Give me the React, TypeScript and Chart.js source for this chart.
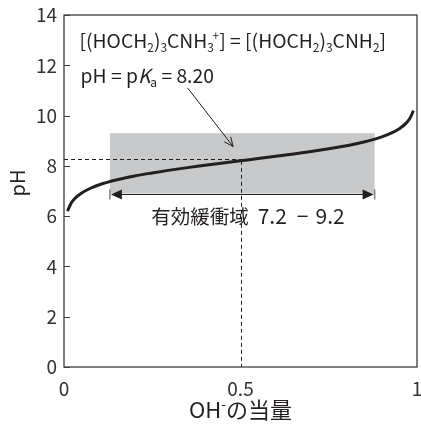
import { useEffect, useRef } from 'react';
import { Chart, registerables } from 'chart.js';

Chart.register(...registerables);

// ---- data ----
const equivalents = [0.01, 0.02, 0.03, 0.05, 0.075, 0.1, 0.15, 0.2, 0.25, 0.3, 0.35, 0.4, 0.45, 0.5, 0.55, 0.6, 0.65, 0.7, 0.75, 0.8, 0.85, 0.9, 0.925, 0.95, 0.97, 0.98, 0.99];
const phValues = [6.2, 6.51, 6.69, 6.92, 7.11, 7.25, 7.45, 7.6, 7.72, 7.83, 7.93, 8.02, 8.11, 8.2, 8.29, 8.38, 8.47, 8.57, 8.68, 8.8, 8.95, 9.15, 9.29, 9.48, 9.71, 9.89, 10.2];

const xTicks = [0, 0.5, 1];
const xTickLabels = ['0', '0.5', '1'];
const yTickStep = 2;

const bufferRangeX = [0.13, 0.88];
const bufferRangeY = [6.9, 9.3];
const bufferArrowY = 6.88;
const halfPoint = [0.5, 8.2];
const guideLineY = 8.28;
const pointerFrom = [0.35, 11.1];
const pointerTo = [0.479, 8.77];

const eqLabelPos = [0.044, 12.69];
const pkaLabelPos = [0.047, 11.3];
const rangeLabelPos = [0.247, 5.68];
const rangeLabelJa = '有効緩衝域';
const rangeLabelNums = ['7.2', '−', '9.2'];

const xTitle = [{ t: 'OH' }, { t: '-', k: 'sup' }, { t: 'の当量' }];
const yTitle = 'pH';

const eqLabel = [
  { t: '[(HOCH' }, { t: '2', k: 'sub' }, { t: ')' }, { t: '3', k: 'sub' }, { t: 'CNH' }, { t: '3', k: 'sub' }, { t: '+', k: 'supstack' },
  { t: '] = [(HOCH' }, { t: '2', k: 'sub' }, { t: ')' }, { t: '3', k: 'sub' }, { t: 'CNH' }, { t: '2', k: 'sub' }, { t: ']' },
];
const pkaLabel = [{ t: 'pH = p' }, { t: 'K', k: 'it' }, { t: 'a', k: 'sub' }, { t: ' = 8.20' }];

const FONT = '"Noto Sans CJK JP", "Noto Sans", sans-serif';
const INK = '#231f20';

type Seg = { t: string; k?: string };

function richWidth(ctx: CanvasRenderingContext2D, segs: Seg[], size: number) {
  let w = 0;
  let lastSubW = 0;
  for (const s of segs) {
    if (s.k === 'sub' || s.k === 'sup') {
      ctx.font = `${size * 0.62}px ${FONT}`;
      lastSubW = ctx.measureText(s.t).width;
      w += lastSubW;
    } else if (s.k === 'supstack') {
      ctx.font = `${size * 0.62}px ${FONT}`;
      const sw = ctx.measureText(s.t).width;
      w += Math.max(0, sw - lastSubW * 0.2);
    } else {
      ctx.font = `${s.k === 'it' ? 'italic ' : ''}${size}px ${FONT}`;
      w += ctx.measureText(s.t).width;
    }
  }
  return w;
}

function drawRich(ctx: CanvasRenderingContext2D, segs: Seg[], x: number, y: number, size: number) {
  let cx = x;
  let lastSubX = x;
  let lastSubW = 0;
  ctx.textBaseline = 'alphabetic';
  ctx.textAlign = 'left';
  for (const s of segs) {
    if (s.k === 'sub') {
      ctx.font = `${size * 0.62}px ${FONT}`;
      ctx.fillText(s.t, cx, y + size * 0.22);
      lastSubX = cx;
      lastSubW = ctx.measureText(s.t).width;
      cx += lastSubW;
    } else if (s.k === 'sup') {
      ctx.font = `${size * 0.62}px ${FONT}`;
      ctx.fillText(s.t, cx, y - size * 0.42);
      cx += ctx.measureText(s.t).width;
    } else if (s.k === 'supstack') {
      ctx.font = `${size * 0.62}px ${FONT}`;
      const sx = lastSubX + lastSubW * 0.8;
      ctx.fillText(s.t, sx, y - size * 0.42);
      cx = Math.max(cx, sx + ctx.measureText(s.t).width);
    } else {
      ctx.font = `${s.k === 'it' ? 'italic ' : ''}${size}px ${FONT}`;
      ctx.fillText(s.t, cx, y);
      cx += ctx.measureText(s.t).width;
    }
  }
}

const decorations = {
  id: 'decorations',
  beforeDatasetsDraw(chart: any) {
    const { ctx, scales, chartArea: a } = chart;
    const xs = scales.x;
    const ys = scales.y;
    ctx.save();
    const rx0 = xs.getPixelForValue(bufferRangeX[0]);
    const rx1 = xs.getPixelForValue(bufferRangeX[1]);
    const ry0 = ys.getPixelForValue(bufferRangeY[1]);
    const ry1 = ys.getPixelForValue(bufferRangeY[0]);
    ctx.fillStyle = '#c8c9ca';
    ctx.fillRect(rx0, ry0, rx1 - rx0, ry1 - ry0);
    ctx.setLineDash([4, 3]);
    ctx.strokeStyle = INK;
    ctx.lineWidth = 1;
    const gy = Math.round(ys.getPixelForValue(guideLineY)) + 0.5;
    const gx = Math.round(xs.getPixelForValue(halfPoint[0])) + 0.5;
    ctx.beginPath();
    ctx.moveTo(a.left, gy);
    ctx.lineTo(gx, gy);
    ctx.stroke();
    ctx.beginPath();
    ctx.moveTo(gx, ys.getPixelForValue(halfPoint[1]));
    ctx.lineTo(gx, a.bottom);
    ctx.stroke();
    ctx.restore();
  },
  afterDatasetsDraw(chart: any) {
    const { ctx, scales, chartArea: a } = chart;
    const xs = scales.x;
    const ys = scales.y;
    ctx.save();
    ctx.strokeStyle = '#3c3c3c';
    ctx.lineWidth = 1.3;
    ctx.strokeRect(a.left, a.top, a.right - a.left, a.bottom - a.top);
    ctx.lineWidth = 1;
    for (let v = 0; v <= 14; v += yTickStep) {
      const py = Math.round(ys.getPixelForValue(v)) + 0.5;
      ctx.beginPath();
      ctx.moveTo(a.left, py);
      ctx.lineTo(a.left + 6, py);
      ctx.stroke();
    }
    // double arrow
    const ax0 = xs.getPixelForValue(bufferRangeX[0]);
    const ax1 = xs.getPixelForValue(bufferRangeX[1]);
    const ay = Math.round(ys.getPixelForValue(bufferArrowY)) + 0.5;
    ctx.strokeStyle = '#808080';
    ctx.lineWidth = 1.5;
    ctx.beginPath();
    ctx.moveTo(ax0, ay - 5); ctx.lineTo(ax0, ay + 5);
    ctx.moveTo(ax1, ay - 5); ctx.lineTo(ax1, ay + 5);
    ctx.stroke();
    ctx.strokeStyle = INK;
    ctx.lineWidth = 1.2;
    ctx.beginPath();
    ctx.moveTo(ax0 + 4, ay); ctx.lineTo(ax1 - 4, ay);
    ctx.stroke();
    ctx.fillStyle = INK;
    ctx.beginPath();
    ctx.moveTo(ax0 + 1, ay); ctx.lineTo(ax0 + 12, ay - 5); ctx.lineTo(ax0 + 12, ay + 5); ctx.closePath();
    ctx.fill();
    ctx.beginPath();
    ctx.moveTo(ax1 - 1, ay); ctx.lineTo(ax1 - 12, ay - 5); ctx.lineTo(ax1 - 12, ay + 5); ctx.closePath();
    ctx.fill();
    // pointer arrow
    const px0 = xs.getPixelForValue(pointerFrom[0]);
    const py0 = ys.getPixelForValue(pointerFrom[1]);
    const px1 = xs.getPixelForValue(pointerTo[0]);
    const py1 = ys.getPixelForValue(pointerTo[1]);
    ctx.lineWidth = 1;
    ctx.beginPath();
    ctx.moveTo(px0, py0); ctx.lineTo(px1, py1);
    const ang = Math.atan2(py1 - py0, px1 - px0);
    const hl = 10;
    ctx.moveTo(px1 - hl * Math.cos(ang - 0.42), py1 - hl * Math.sin(ang - 0.42));
    ctx.lineTo(px1, py1);
    ctx.lineTo(px1 - hl * Math.cos(ang + 0.42), py1 - hl * Math.sin(ang + 0.42));
    ctx.stroke();
    // labels
    ctx.fillStyle = INK;
    drawRich(ctx, eqLabel, xs.getPixelForValue(eqLabelPos[0]), ys.getPixelForValue(eqLabelPos[1]), 19.3);
    drawRich(ctx, pkaLabel, xs.getPixelForValue(pkaLabelPos[0]), ys.getPixelForValue(pkaLabelPos[1]), 19.3);
    ctx.textAlign = 'left';
    ctx.textBaseline = 'alphabetic';
    let lx = xs.getPixelForValue(rangeLabelPos[0]);
    const ly = ys.getPixelForValue(rangeLabelPos[1]);
    ctx.font = `19.5px ${FONT}`;
    ctx.fillText(rangeLabelJa, lx, ly);
    lx += ctx.measureText(rangeLabelJa).width + 9;
    ctx.font = `21px ${FONT}`;
    const gaps = [10, 7, 0];
    rangeLabelNums.forEach((t, i) => {
      ctx.fillText(t, lx, ly);
      lx += ctx.measureText(t).width + gaps[i];
    });
    // axis titles
    const xtw = richWidth(ctx, xTitle, 22);
    ctx.fillStyle = INK;
    drawRich(ctx, xTitle, (a.left + a.right) / 2 - xtw / 2, 418, 22);
    ctx.save();
    ctx.translate(25, 183);
    ctx.rotate(-Math.PI / 2);
    ctx.font = `20px ${FONT}`;
    ctx.textAlign = 'center';
    ctx.textBaseline = 'alphabetic';
    ctx.fillText(yTitle, 0, 0);
    ctx.restore();
    ctx.restore();
  },
};

export default function App() {
  const ref = useRef<HTMLCanvasElement | null>(null);
  useEffect(() => {
    if (!ref.current) return;
    const chart = new Chart(ref.current, {
      type: 'line',
      data: {
        datasets: [
          {
            data: equivalents.map((e, i) => ({ x: e, y: phValues[i] })),
            borderColor: INK,
            borderWidth: 3,
            pointRadius: 0,
            fill: false,
            cubicInterpolationMode: 'monotone',
          },
        ],
      },
      options: {
        responsive: false,
        animation: false,
        events: [],
        layout: { padding: { top: 15, right: 4, left: 0, bottom: 0 } },
        plugins: { legend: { display: false }, tooltip: { enabled: false } },
        scales: {
          x: {
            type: 'linear',
            min: 0,
            max: 1,
            afterBuildTicks: (s: any) => {
              s.ticks = xTicks.map((v) => ({ value: v }));
            },
            afterFit: (s: any) => {
              s.height = 60;
              s.paddingLeft = 0;
              s.paddingRight = 0;
            },
            grid: { display: false, drawTicks: false },
            border: { display: false },
            ticks: {
              maxRotation: 0,
              autoSkip: false,
              padding: 10,
              color: '#333',
              font: { family: FONT, size: 19 },
              callback: (_v: any, i: number) => xTickLabels[i],
            },
          },
          y: {
            type: 'linear',
            min: 0,
            max: 14,
            afterFit: (s: any) => {
              s.width = 64;
              s.paddingTop = 0;
              s.paddingBottom = 0;
            },
            grid: { display: false, drawTicks: false },
            border: { display: false },
            ticks: {
              stepSize: yTickStep,
              padding: 7,
              color: '#333',
              font: { family: FONT, size: 19 },
            },
          },
        },
      },
      plugins: [decorations],
    } as any);
    return () => chart.destroy();
  }, []);
  return (
    <div style={{ position: 'fixed', left: 0, top: 0, width: 421, height: 427, background: '#fff' }}>
      <canvas ref={ref} width={421} height={427} style={{ display: 'block' }} />
    </div>
  );
}
